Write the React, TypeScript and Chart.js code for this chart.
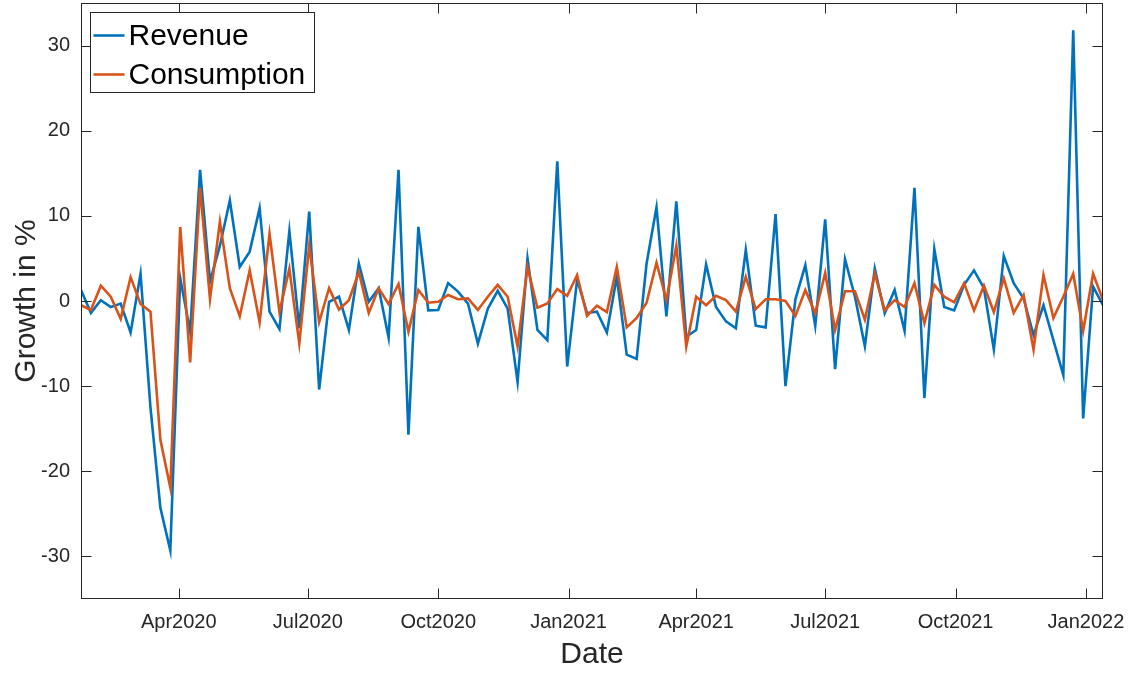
import { useEffect, useRef } from "react";
import { Chart, registerables } from "chart.js";

Chart.register(...registerables);

// Weekly observations, first week starting on this date
const startDate = "2020-01-23";
const daysPerStep = 7;

const revenue = [
  1.3, -1.4, 0.1, -0.7, -0.3, -3.7, 3.2, -12.5, -24.3, -29.3,
  2.7, -3.6, 15.4, 2.3, 6.5, 11.8, 4.0, 5.8, 10.9, -1.25,
  -3.3, 8.2, -3.2, 10.5, -10.4, -0.1, 0.5, -3.4, 4.4, -0.1,
  1.5, -4.3, 15.4, -15.7, 8.7, -1.1, -1.05, 2.1, 1.1, -0.3,
  -5.0, -0.9, 1.2, -0.9, -9.5, 5.0, -3.4, -4.6, 16.4, -7.7,
  2.5, -1.4, -1.25, -3.7, 2.85, -6.3, -6.8, 4.4, 11.0, -1.8,
  11.7, -4.2, -3.4, 4.3, -0.7, -2.4, -3.2, 6.0, -2.9, -3.1,
  10.2, -10.0, 0.2, 4.2, -2.9, 9.6, -8.0, 4.9, 0.5, -5.3,
  3.8, -1.45, 1.3, -3.5, 13.3, -11.4, 6.1, -0.7, -1.1, 1.9,
  3.6, 1.5, -5.7, 5.3, 2.1, 0.3, -4.0, -0.5, -4.6, -8.7,
  31.8, -13.8, 1.7, -0.5,
];

const consumption = [
  -0.5, -1.05, 1.8, 0.5, -2.1, 2.8, -0.35, -1.25, -16.3, -21.9,
  8.7, -7.2, 13.3, 0.2, 9.3, 1.5, -1.8, 3.6, -2.5, 7.9,
  -1.3, 3.8, -5.0, 6.5, -2.5, 1.5, -1.0, 0.1, 3.4, -1.4,
  1.5, -0.35, 2.0, -3.6, 1.3, -0.2, -0.1, 0.7, 0.2, 0.3,
  -1.05, 0.5, 1.9, 0.5, -5.35, 4.0, -0.8, -0.3, 1.4, 0.6,
  3.05, -1.75, -0.55, -1.3, 4.0, -3.1, -2.0, -0.2, 4.5, 0.1,
  6.5, -5.35, 0.5, -0.5, 0.6, 0.1, -1.25, 2.85, -0.95, 0.2,
  0.2, 0.0, -1.75, 1.3, -1.45, 3.3, -3.4, 1.15, 1.15, -2.2,
  3.2, -1.1, 0.1, -0.7, 2.1, -2.6, 1.9, 0.5, -0.15, 2.1,
  -1.1, 1.8, -1.3, 2.65, -1.4, 0.7, -5.7, 3.05, -2.0, 0.5,
  3.2, -3.5, 3.2, 0.1,
];

const tickDates = [
  "2020-04-01", "2020-07-01", "2020-10-01", "2021-01-01",
  "2021-04-01", "2021-07-01", "2021-10-01", "2022-01-01",
];
const tickLabels = [
  "Apr2020", "Jul2020", "Oct2020", "Jan2021",
  "Apr2021", "Jul2021", "Oct2021", "Jan2022",
];
const yTicks = [-30, -20, -10, 0, 10, 20, 30];

const seriesNames = ["Revenue", "Consumption"];
const seriesColors = ["#0072BD", "#D95319"];

const FONT = '"Liberation Sans", Arial, Helvetica, sans-serif';
const AXIS_COLOR = "#262626";
const LINE_W = 2.6;
const TICK_LEN = 10;

function dayOffset(d: string): number {
  const [y0, m0, dd0] = startDate.split("-").map(Number);
  const [y, m, dd] = d.split("-").map(Number);
  return (Date.UTC(y, m - 1, dd) - Date.UTC(y0, m0 - 1, dd0)) / 86400000;
}

const framePlugin = {
  id: "matlabFrame",
  afterDraw(chart: any) {
    const { ctx, chartArea: a, scales } = chart;
    ctx.save();
    ctx.strokeStyle = AXIS_COLOR;
    ctx.lineWidth = 1;
    const L = Math.round(a.left) + 0.5;
    const R = Math.round(a.right) - 0.5;
    const T = Math.round(a.top) + 0.5;
    const B = Math.round(a.bottom) - 0.5;
    ctx.strokeRect(L, T, R - L, B - T);
    ctx.beginPath();
    scales.x.ticks.forEach((t: any) => {
      const px = Math.round(scales.x.getPixelForValue(t.value)) + 0.5;
      ctx.moveTo(px, B);
      ctx.lineTo(px, B - TICK_LEN);
      ctx.moveTo(px, T);
      ctx.lineTo(px, T + TICK_LEN);
    });
    scales.y.ticks.forEach((t: any) => {
      const py = Math.round(scales.y.getPixelForValue(t.value)) + 0.5;
      ctx.moveTo(L, py);
      ctx.lineTo(L + TICK_LEN, py);
      ctx.moveTo(R, py);
      ctx.lineTo(R - TICK_LEN, py);
    });
    ctx.stroke();

    // legend box (top-left, inside the axes)
    const bx = L + 9;
    const by = T + 9;
    const bw = 224;
    const bh = 80;
    ctx.fillStyle = "#ffffff";
    ctx.fillRect(bx, by, bw, bh);
    ctx.strokeStyle = AXIS_COLOR;
    ctx.lineWidth = 1;
    ctx.strokeRect(bx, by, bw, bh);
    chart.data.datasets.forEach((ds: any, i: number) => {
      const cy = by + 23 + i * 39;
      ctx.strokeStyle = ds.borderColor;
      ctx.lineWidth = LINE_W;
      ctx.beginPath();
      ctx.moveTo(bx + 3, cy);
      ctx.lineTo(bx + 34, cy);
      ctx.stroke();
      ctx.fillStyle = "#000000";
      ctx.font = `30px ${FONT}`;
      ctx.textBaseline = "middle";
      ctx.textAlign = "left";
      ctx.fillText(ds.label, bx + 38, cy + 1);
    });
    ctx.restore();
  },
};

export default function App() {
  const canvasRef = useRef<HTMLCanvasElement | null>(null);

  useEffect(() => {
    if (!canvasRef.current) return;
    const toPoints = (vals: number[]) =>
      vals.map((v, i) => ({ x: i * daysPerStep, y: v }));
    const maxDay = (revenue.length - 1) * daysPerStep;

    const chart = new Chart(canvasRef.current, {
      type: "line",
      data: {
        datasets: [
          {
            label: seriesNames[0],
            data: toPoints(revenue),
            borderColor: seriesColors[0],
            backgroundColor: seriesColors[0],
            borderWidth: LINE_W,
            pointRadius: 0,
            tension: 0,
            order: 1,
          },
          {
            label: seriesNames[1],
            data: toPoints(consumption),
            borderColor: seriesColors[1],
            backgroundColor: seriesColors[1],
            borderWidth: LINE_W,
            pointRadius: 0,
            tension: 0,
            order: 0,
          },
        ],
      },
      options: {
        animation: false,
        responsive: true,
        maintainAspectRatio: false,
        layout: { padding: { left: 0, top: 3, right: 25, bottom: 0 } },
        plugins: {
          legend: { display: false },
          tooltip: { enabled: false },
        },
        scales: {
          x: {
            type: "linear",
            min: 0,
            max: maxDay,
            grid: { display: false, drawTicks: false },
            border: { display: false },
            afterBuildTicks: (scale: any) => {
              scale.ticks = tickDates.map((d) => ({ value: dayOffset(d) }));
            },
            afterFit: (scale: any) => {
              scale.height = 76;
              scale.paddingLeft = 0;
              scale.paddingRight = 0;
              scale.paddingTop = 0;
              scale.paddingBottom = 0;
            },
            ticks: {
              autoSkip: false,
              maxRotation: 0,
              padding: 11,
              color: AXIS_COLOR,
              font: { family: FONT, size: 20 },
              callback: (_v: any, idx: number) => tickLabels[idx],
            },
            title: {
              display: true,
              text: "Date",
              color: AXIS_COLOR,
              font: { family: FONT, size: 30 },
              padding: { top: 0, bottom: 2 },
            },
          },
          y: {
            type: "linear",
            min: -35,
            max: 35,
            grid: { display: false, drawTicks: false },
            border: { display: false },
            afterBuildTicks: (scale: any) => {
              scale.ticks = yTicks.map((v) => ({ value: v }));
            },
            afterFit: (scale: any) => {
              scale.width = 81;
              scale.paddingLeft = 0;
              scale.paddingRight = 0;
              scale.paddingTop = 0;
              scale.paddingBottom = 0;
            },
            ticks: {
              padding: 11,
              color: AXIS_COLOR,
              font: { family: FONT, size: 20 },
              callback: (v: any) => String(v),
            },
            title: {
              display: true,
              text: "Growth in %",
              color: AXIS_COLOR,
              font: { family: FONT, size: 30 },
              padding: { top: 9, bottom: 0 },
            },
          },
        },
      },
      plugins: [framePlugin],
    });
    return () => chart.destroy();
  }, []);

  return (
    <div
      style={{
        position: "fixed",
        left: 0,
        top: 0,
        width: 1128,
        height: 675,
        background: "#ffffff",
      }}
    >
      <canvas ref={canvasRef} />
    </div>
  );
}
